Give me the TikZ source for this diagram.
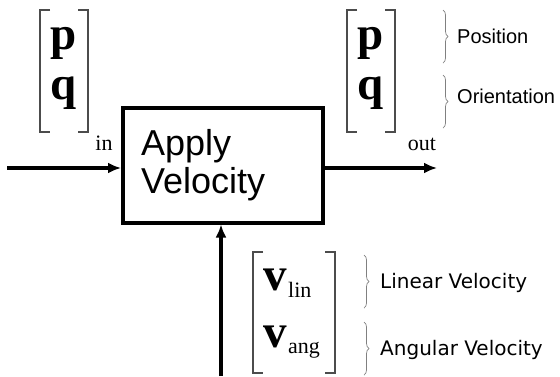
\documentclass[tikz,border=0pt]{standalone}
\usepackage{fontspec}
\setmainfont{Liberation Serif}
\newfontfamily\arialfont{Liberation Sans}
\newfontfamily\verdfont{DejaVu Sans}
\usetikzlibrary{arrows.meta,decorations.pathreplacing}

\begin{document}
\begin{tikzpicture}[x=1pt, y=-1pt,
    >={Latex[length=13pt,width=11pt]},   %Voreinstellung für Pfeilspitzen
    block/.style={draw, line width=4pt, minimum width=200pt, minimum height=115pt,
      text width=164pt, inner xsep=18pt, align=left,
      font=\arialfont\fontsize{36}{38}\selectfont},
    sig/.style={->, line width=3.2pt},
    klammer/.style={draw=black!70, line width=1.2pt},
    brace/.style={draw=gray, line width=0.7pt, decorate, decoration={brace, amplitude=5pt}},
    sym/.style={anchor=base, inner sep=0pt, font=\bfseries\fontsize{47}{47}\selectfont},
    idx/.style={anchor=base, inner sep=0pt, font=\fontsize{22}{22}\selectfont},
    lab/.style={anchor=base west, inner sep=0pt, font=\arialfont\fontsize{20}{20}\selectfont},
    vlab/.style={anchor=base west, inner sep=0pt, font=\verdfont\fontsize{20}{20}\selectfont}]
    \useasboundingbox (0,0) rectangle (560,376); %Bildbereich
    % Block
    \node[block] (apply) at (223,165) {Apply\\Velocity};
    % Signale
    \coordinate (ein) at (7,168);
    \coordinate (aus) at (437,168);
    \coordinate (vin) at (221,376);
    \draw[sig] (ein) -- (ein -| apply.west);
    \draw[sig] (apply.east |- aus) -- (aus);
    \draw[sig] (vin) -- (vin |- apply.south);
    % Klammern der Vektoren
    \foreach \l/\r/\o/\u in {40/88/10/132, 347/395/10/132, 253/335/252/373} {
      \draw[klammer] (\l+10,\o) -- (\l,\o) -- (\l,\u) -- (\l+10,\u);
      \draw[klammer] (\r-10,\o) -- (\r,\o) -- (\r,\u) -- (\r-10,\u);
    }
    % Eingang
    \node[sym] (pin) at (64,49) {p};
    \node[sym] (qin) at (64,99) {q};
    \node[idx] (idxin) at (104,150) {in};
    % Ausgang
    \node[sym] (pout) at (371,49) {p};
    \node[sym] (qout) at (371,99) {q};
    \node[idx] (idxout) at (422,150) {out};
    % Geschwindigkeit
    \node[sym, anchor=base west] (vlin) at (263,290) {v};
    \node[idx, anchor=base west] (lin) at (288,297) {lin};
    \node[sym, anchor=base west] (vang) at (263,347) {v};
    \node[idx, anchor=base west] (ang) at (288,353) {ang};
    % Beschriftung
    \draw[brace] (443,10) -- (443,63);
    \draw[brace] (443,75) -- (443,128);
    \draw[brace] (364,255) -- (364,308);
    \draw[brace] (364,322) -- (364,375);
    \node[lab] (pos) at (457,43) {Position};
    \node[lab] (ori) at (457,103) {Orientation};
    \node[vlab] (linv) at (380,288) {Linear Velocity};
    \node[vlab] (angv) at (380,355) {Angular Velocity};
\end{tikzpicture}
\end{document}
